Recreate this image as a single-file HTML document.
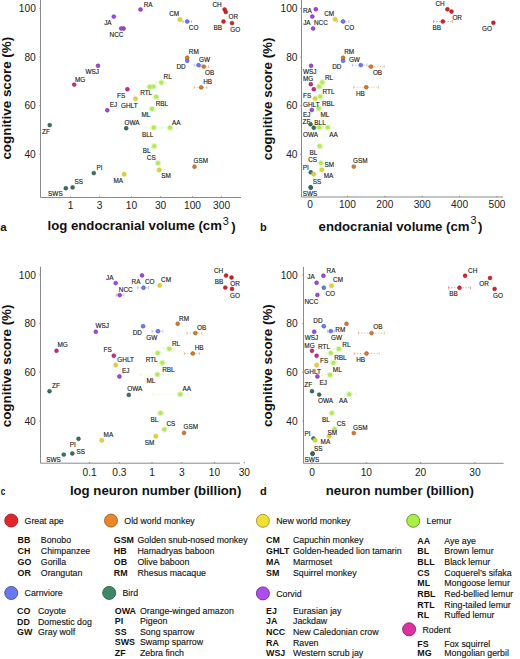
<!DOCTYPE html>
<html><head><meta charset="utf-8"><style>
html,body{margin:0;padding:0;background:#fff;width:520px;height:659px;overflow:hidden}
svg{display:block}
text{font-family:"Liberation Sans",sans-serif}
.ax{stroke:#8a8a8a;stroke-width:1;fill:none}
.tk{font-size:10.2px;fill:#222}
.ttl{font-size:13.2px;font-weight:bold;fill:#111}
.yl{font-size:13.4px}
.sup{font-size:10.8px;font-weight:normal}
.pl{font-size:11.5px;font-weight:bold;fill:#111}
.lb{font-size:6.4px;fill:#1c1c1c;text-anchor:middle;stroke:#1c1c1c;stroke-width:0.14}
.lg{font-size:8.8px;fill:#161616;stroke:#161616;stroke-width:0.14}
.lgb{font-size:8.9px;font-weight:bold;fill:#111}
</style></head><body>
<svg width="520" height="659" viewBox="0 0 520 659">
<line x1="40.5" y1="0" x2="40.5" y2="197.5" class="ax"/>
<line x1="40.5" y1="197.5" x2="241" y2="197.5" class="ax"/>
<line x1="70.5" y1="197.5" x2="70.5" y2="196.3" class="ax"/>
<text x="70.5" y="209.2" class="tk" text-anchor="middle" >1</text>
<line x1="99.6043965378994" y1="197.5" x2="99.6043965378994" y2="196.3" class="ax"/>
<text x="99.6043965378994" y="209.2" class="tk" text-anchor="middle" >3</text>
<line x1="131.5" y1="197.5" x2="131.5" y2="196.3" class="ax"/>
<text x="131.5" y="209.2" class="tk" text-anchor="middle" >10</text>
<line x1="160.6043965378994" y1="197.5" x2="160.6043965378994" y2="196.3" class="ax"/>
<text x="160.6043965378994" y="209.2" class="tk" text-anchor="middle" >30</text>
<line x1="192.5" y1="197.5" x2="192.5" y2="196.3" class="ax"/>
<text x="192.5" y="209.2" class="tk" text-anchor="middle" >100</text>
<line x1="221.60439653789942" y1="197.5" x2="221.60439653789942" y2="196.3" class="ax"/>
<text x="221.60439653789942" y="209.2" class="tk" text-anchor="middle" >300</text>
<line x1="39.3" y1="8.3" x2="40.5" y2="8.3" class="ax"/>
<line x1="39.3" y1="56.959999999999994" x2="40.5" y2="56.959999999999994" class="ax"/>
<line x1="39.3" y1="105.61999999999999" x2="40.5" y2="105.61999999999999" class="ax"/>
<line x1="39.3" y1="154.28" x2="40.5" y2="154.28" class="ax"/>
<text x="35.8" y="11.9" class="tk" text-anchor="end" >100</text>
<text x="35.8" y="60.559999999999995" class="tk" text-anchor="end" >80</text>
<text x="35.8" y="109.21999999999998" class="tk" text-anchor="end" >60</text>
<text x="35.8" y="157.88" class="tk" text-anchor="end" >40</text>
<text transform="translate(10.6,98.2) rotate(-90)" class="ttl yl" text-anchor="middle">cognitive score (%)</text>
<text x="47.5" y="230.2" class="ttl">log endocranial volume (cm<tspan class="sup" dx="0.9" dy="-5.7">3</tspan><tspan dx="2.4" dy="6.3">)</tspan></text>
<text x="0.3" y="231" class="pl">a</text>
<line x1="182.8" y1="21.5" x2="191.5" y2="21.5" stroke="#6a7af0" stroke-width="0.8" stroke-dasharray="1.3 1.5" opacity="0.55"/>
<line x1="182.8" y1="20.0" x2="182.8" y2="23.0" stroke="#6a7af0" stroke-width="0.7" opacity="0.55"/>
<line x1="191.5" y1="20.0" x2="191.5" y2="23.0" stroke="#6a7af0" stroke-width="0.7" opacity="0.55"/>
<line x1="194.2" y1="65.1" x2="202" y2="65.1" stroke="#6a7af0" stroke-width="0.8" stroke-dasharray="1.3 1.5" opacity="0.55"/>
<line x1="194.2" y1="63.599999999999994" x2="194.2" y2="66.6" stroke="#6a7af0" stroke-width="0.7" opacity="0.55"/>
<line x1="202" y1="63.599999999999994" x2="202" y2="66.6" stroke="#6a7af0" stroke-width="0.7" opacity="0.55"/>
<line x1="200" y1="66.6" x2="208.5" y2="66.6" stroke="#d27a2e" stroke-width="0.8" stroke-dasharray="1.3 1.5" opacity="0.55"/>
<line x1="200" y1="65.1" x2="200" y2="68.1" stroke="#d27a2e" stroke-width="0.7" opacity="0.55"/>
<line x1="208.5" y1="65.1" x2="208.5" y2="68.1" stroke="#d27a2e" stroke-width="0.7" opacity="0.55"/>
<line x1="194.2" y1="87.4" x2="206.9" y2="87.4" stroke="#d27a2e" stroke-width="0.8" stroke-dasharray="1.3 1.5" opacity="0.55"/>
<line x1="194.2" y1="85.9" x2="194.2" y2="88.9" stroke="#d27a2e" stroke-width="0.7" opacity="0.55"/>
<line x1="206.9" y1="85.9" x2="206.9" y2="88.9" stroke="#d27a2e" stroke-width="0.7" opacity="0.55"/>
<line x1="156" y1="82.6" x2="166" y2="82.6" stroke="#acec44" stroke-width="0.8" stroke-dasharray="1.3 1.5" opacity="0.35"/>
<line x1="156" y1="81.1" x2="156" y2="84.1" stroke="#acec44" stroke-width="0.7" opacity="0.35"/>
<line x1="166" y1="81.1" x2="166" y2="84.1" stroke="#acec44" stroke-width="0.7" opacity="0.35"/>
<line x1="146" y1="86.7" x2="157" y2="86.7" stroke="#acec44" stroke-width="0.8" stroke-dasharray="1.3 1.5" opacity="0.35"/>
<line x1="146" y1="85.2" x2="146" y2="88.2" stroke="#acec44" stroke-width="0.7" opacity="0.35"/>
<line x1="157" y1="85.2" x2="157" y2="88.2" stroke="#acec44" stroke-width="0.7" opacity="0.35"/>
<line x1="139.2" y1="108.9" x2="161.5" y2="108.9" stroke="#acec44" stroke-width="0.8" stroke-dasharray="1.3 1.5" opacity="0.35"/>
<line x1="139.2" y1="107.4" x2="139.2" y2="110.4" stroke="#acec44" stroke-width="0.7" opacity="0.35"/>
<line x1="161.5" y1="107.4" x2="161.5" y2="110.4" stroke="#acec44" stroke-width="0.7" opacity="0.35"/>
<line x1="146" y1="127.7" x2="160" y2="127.7" stroke="#acec44" stroke-width="0.8" stroke-dasharray="1.3 1.5" opacity="0.35"/>
<line x1="146" y1="126.2" x2="146" y2="129.2" stroke="#acec44" stroke-width="0.7" opacity="0.35"/>
<line x1="160" y1="126.2" x2="160" y2="129.2" stroke="#acec44" stroke-width="0.7" opacity="0.35"/>
<line x1="162" y1="127.7" x2="177" y2="127.7" stroke="#acec44" stroke-width="0.8" stroke-dasharray="1.3 1.5" opacity="0.35"/>
<line x1="162" y1="126.2" x2="162" y2="129.2" stroke="#acec44" stroke-width="0.7" opacity="0.35"/>
<line x1="177" y1="126.2" x2="177" y2="129.2" stroke="#acec44" stroke-width="0.7" opacity="0.35"/>
<line x1="152" y1="96.9" x2="160" y2="96.9" stroke="#acec44" stroke-width="0.8" stroke-dasharray="1.3 1.5" opacity="0.35"/>
<line x1="152" y1="95.4" x2="152" y2="98.4" stroke="#acec44" stroke-width="0.7" opacity="0.35"/>
<line x1="160" y1="95.4" x2="160" y2="98.4" stroke="#acec44" stroke-width="0.7" opacity="0.35"/>
<circle cx="49.7" cy="125.1" r="1.95" fill="#347060" stroke="#24493c" stroke-width="0.5"/>
<circle cx="126.2" cy="128.2" r="1.95" fill="#347060" stroke="#24493c" stroke-width="0.5"/>
<circle cx="93.8" cy="173.1" r="1.95" fill="#347060" stroke="#24493c" stroke-width="0.5"/>
<circle cx="72.6" cy="187.4" r="1.95" fill="#347060" stroke="#24493c" stroke-width="0.5"/>
<circle cx="65.8" cy="188.2" r="1.95" fill="#347060" stroke="#24493c" stroke-width="0.5"/>
<circle cx="161.4" cy="82.6" r="3.2" fill="#cdf096" opacity="0.5"/>
<circle cx="161.4" cy="82.6" r="2.15" fill="#b0e85a"/>
<circle cx="153.4" cy="86.7" r="3.2" fill="#cdf096" opacity="0.5"/>
<circle cx="153.4" cy="86.7" r="2.15" fill="#b0e85a"/>
<circle cx="156.2" cy="96.9" r="3.2" fill="#cdf096" opacity="0.5"/>
<circle cx="156.2" cy="96.9" r="2.15" fill="#b0e85a"/>
<circle cx="152" cy="108.9" r="3.2" fill="#cdf096" opacity="0.5"/>
<circle cx="152" cy="108.9" r="2.15" fill="#b0e85a"/>
<circle cx="153.8" cy="127.7" r="3.2" fill="#cdf096" opacity="0.5"/>
<circle cx="153.8" cy="127.7" r="2.15" fill="#b0e85a"/>
<circle cx="170" cy="127.7" r="3.2" fill="#cdf096" opacity="0.5"/>
<circle cx="170" cy="127.7" r="2.15" fill="#b0e85a"/>
<circle cx="154.2" cy="146.2" r="3.2" fill="#cdf096" opacity="0.5"/>
<circle cx="154.2" cy="146.2" r="2.15" fill="#b0e85a"/>
<circle cx="158" cy="163.1" r="3.2" fill="#cdf096" opacity="0.5"/>
<circle cx="158" cy="163.1" r="2.15" fill="#b0e85a"/>
<circle cx="149.8" cy="86.9" r="3.2" fill="#cdf096" opacity="0.5"/>
<circle cx="149.8" cy="86.9" r="2.15" fill="#b0e85a"/>
<circle cx="180" cy="19.5" r="2.9" fill="#ece880" opacity="0.45"/>
<circle cx="180" cy="19.5" r="2.05" fill="#dcd23a" stroke="#c0b038" stroke-width="0.3"/>
<circle cx="135.4" cy="98.8" r="2.9" fill="#ece880" opacity="0.45"/>
<circle cx="135.4" cy="98.8" r="2.05" fill="#dcd23a" stroke="#c0b038" stroke-width="0.3"/>
<circle cx="159.2" cy="170" r="2.9" fill="#ece880" opacity="0.45"/>
<circle cx="159.2" cy="170" r="2.05" fill="#dcd23a" stroke="#c0b038" stroke-width="0.3"/>
<circle cx="124.2" cy="174.2" r="2.9" fill="#ece880" opacity="0.45"/>
<circle cx="124.2" cy="174.2" r="2.05" fill="#dcd23a" stroke="#c0b038" stroke-width="0.3"/>
<circle cx="187.2" cy="21.5" r="1.95" fill="#6a7af0" stroke="#3c4aa6" stroke-width="0.5"/>
<circle cx="187.2" cy="60.8" r="1.95" fill="#6a7af0" stroke="#3c4aa6" stroke-width="0.5"/>
<circle cx="198.5" cy="65.1" r="1.95" fill="#6a7af0" stroke="#3c4aa6" stroke-width="0.5"/>
<circle cx="140.5" cy="9.5" r="1.95" fill="#9e48e0" stroke="#66288e" stroke-width="0.5"/>
<circle cx="113.8" cy="16.6" r="1.95" fill="#9e48e0" stroke="#66288e" stroke-width="0.5"/>
<circle cx="123.6" cy="28.5" r="1.95" fill="#9e48e0" stroke="#66288e" stroke-width="0.5"/>
<circle cx="98" cy="65.8" r="1.95" fill="#9e48e0" stroke="#66288e" stroke-width="0.5"/>
<circle cx="107.3" cy="110.3" r="1.95" fill="#9e48e0" stroke="#66288e" stroke-width="0.5"/>
<circle cx="121.2" cy="28.5" r="1.95" fill="#9e48e0" stroke="#66288e" stroke-width="0.5"/>
<circle cx="74.2" cy="84.6" r="1.95" fill="#cc2a80" stroke="#861a56" stroke-width="0.5"/>
<circle cx="127.4" cy="89.2" r="1.95" fill="#cc2a80" stroke="#861a56" stroke-width="0.5"/>
<circle cx="187.2" cy="57.7" r="1.95" fill="#d27a2e" stroke="#945420" stroke-width="0.5"/>
<circle cx="203.8" cy="66.6" r="1.95" fill="#d27a2e" stroke="#945420" stroke-width="0.5"/>
<circle cx="201.2" cy="87.4" r="1.95" fill="#d27a2e" stroke="#945420" stroke-width="0.5"/>
<circle cx="194.5" cy="166.75" r="1.95" fill="#d27a2e" stroke="#945420" stroke-width="0.5"/>
<circle cx="223.5" cy="21.5" r="1.95" fill="#d02228" stroke="#961a1e" stroke-width="0.5"/>
<circle cx="224.6" cy="9.5" r="1.95" fill="#d02228" stroke="#961a1e" stroke-width="0.5"/>
<circle cx="225.8" cy="12" r="1.95" fill="#d02228" stroke="#961a1e" stroke-width="0.5"/>
<circle cx="232" cy="23.1" r="1.95" fill="#d02228" stroke="#961a1e" stroke-width="0.5"/>
<text x="148.2" y="6.9" class="lb">RA</text>
<text x="107.9" y="24.7" class="lb">JA</text>
<text x="116.5" y="37.4" class="lb">NCC</text>
<text x="174.2" y="16.1" class="lb">CM</text>
<text x="193.6" y="30.0" class="lb">CO</text>
<text x="217.1" y="6.6" class="lb">CH</text>
<text x="233.3" y="19.4" class="lb">OR</text>
<text x="217.7" y="30.0" class="lb">BB</text>
<text x="235.2" y="31.6" class="lb">GO</text>
<text x="193.8" y="54.1" class="lb">RM</text>
<text x="181.0" y="68.9" class="lb">DD</text>
<text x="204.6" y="61.8" class="lb">GW</text>
<text x="209.6" y="75.2" class="lb">OB</text>
<text x="207.7" y="84.3" class="lb">HB</text>
<text x="92.3" y="74.2" class="lb">WSJ</text>
<text x="80.2" y="81.5" class="lb">MG</text>
<text x="113.5" y="106.9" class="lb">EJ</text>
<text x="45.9" y="133.8" class="lb">ZF</text>
<text x="121.2" y="97.9" class="lb">FS</text>
<text x="129.3" y="107.7" class="lb">GHLT</text>
<text x="167.7" y="79.3" class="lb">RL</text>
<text x="146.2" y="95.1" class="lb">RTL</text>
<text x="161.9" y="105.8" class="lb">RBL</text>
<text x="145.9" y="117.0" class="lb">ML</text>
<text x="132.1" y="125.1" class="lb">OWA</text>
<text x="147.7" y="136.9" class="lb">BLL</text>
<text x="176.2" y="125.1" class="lb">AA</text>
<text x="146.6" y="152.8" class="lb">BL</text>
<text x="151.3" y="160.0" class="lb">CS</text>
<text x="166.0" y="178.4" class="lb">SM</text>
<text x="118.3" y="183.1" class="lb">MA</text>
<text x="200.9" y="163.2" class="lb">GSM</text>
<text x="99.4" y="169.7" class="lb">PI</text>
<text x="78.7" y="183.6" class="lb">SS</text>
<text x="55.4" y="196.1" class="lb">SWS</text>
<line x1="301.5" y1="0" x2="301.5" y2="197" class="ax"/>
<line x1="301.5" y1="197" x2="503" y2="197" class="ax"/>
<line x1="310.0" y1="197" x2="310.0" y2="195.8" class="ax"/>
<text x="310.0" y="208.4" class="tk" text-anchor="middle" >0</text>
<line x1="347.4" y1="197" x2="347.4" y2="195.8" class="ax"/>
<text x="347.4" y="208.4" class="tk" text-anchor="middle" >100</text>
<line x1="384.8" y1="197" x2="384.8" y2="195.8" class="ax"/>
<text x="384.8" y="208.4" class="tk" text-anchor="middle" >200</text>
<line x1="422.2" y1="197" x2="422.2" y2="195.8" class="ax"/>
<text x="422.2" y="208.4" class="tk" text-anchor="middle" >300</text>
<line x1="459.6" y1="197" x2="459.6" y2="195.8" class="ax"/>
<text x="459.6" y="208.4" class="tk" text-anchor="middle" >400</text>
<line x1="497.0" y1="197" x2="497.0" y2="195.8" class="ax"/>
<text x="497.0" y="208.4" class="tk" text-anchor="middle" >500</text>
<line x1="300.3" y1="8.5" x2="301.5" y2="8.5" class="ax"/>
<line x1="300.3" y1="57.16" x2="301.5" y2="57.16" class="ax"/>
<line x1="300.3" y1="105.82" x2="301.5" y2="105.82" class="ax"/>
<line x1="300.3" y1="154.48" x2="301.5" y2="154.48" class="ax"/>
<text x="297.5" y="12.1" class="tk" text-anchor="end" >100</text>
<text x="297.5" y="60.76" class="tk" text-anchor="end" >80</text>
<text x="297.5" y="109.41999999999999" class="tk" text-anchor="end" >60</text>
<text x="297.5" y="158.07999999999998" class="tk" text-anchor="end" >40</text>
<text transform="translate(271.6,98.9) rotate(-90)" class="ttl yl" text-anchor="middle">cognitive score (%)</text>
<text x="318.6" y="230.7" class="ttl">endocranial volume (cm<tspan class="sup" dx="0.9" dy="-6.8">3</tspan><tspan dx="1.5" dy="7.2">)</tspan></text>
<text x="260.1" y="230.8" class="pl" style="font-size:11px">b</text>
<line x1="336.9" y1="21.5" x2="348.9" y2="21.5" stroke="#6a7af0" stroke-width="0.8" stroke-dasharray="1.3 1.5" opacity="0.55"/>
<line x1="336.9" y1="20.0" x2="336.9" y2="23.0" stroke="#6a7af0" stroke-width="0.7" opacity="0.55"/>
<line x1="348.9" y1="20.0" x2="348.9" y2="23.0" stroke="#6a7af0" stroke-width="0.7" opacity="0.55"/>
<line x1="352.3" y1="65.1" x2="366.9" y2="65.1" stroke="#6a7af0" stroke-width="0.8" stroke-dasharray="1.3 1.5" opacity="0.55"/>
<line x1="352.3" y1="63.599999999999994" x2="352.3" y2="66.6" stroke="#6a7af0" stroke-width="0.7" opacity="0.55"/>
<line x1="366.9" y1="63.599999999999994" x2="366.9" y2="66.6" stroke="#6a7af0" stroke-width="0.7" opacity="0.55"/>
<line x1="368.5" y1="66.6" x2="384.3" y2="66.6" stroke="#d27a2e" stroke-width="0.8" stroke-dasharray="1.3 1.5" opacity="0.55"/>
<line x1="368.5" y1="65.1" x2="368.5" y2="68.1" stroke="#d27a2e" stroke-width="0.7" opacity="0.55"/>
<line x1="384.3" y1="65.1" x2="384.3" y2="68.1" stroke="#d27a2e" stroke-width="0.7" opacity="0.55"/>
<line x1="353.8" y1="87.2" x2="378.5" y2="87.2" stroke="#d27a2e" stroke-width="0.8" stroke-dasharray="1.3 1.5" opacity="0.55"/>
<line x1="353.8" y1="85.7" x2="353.8" y2="88.7" stroke="#d27a2e" stroke-width="0.7" opacity="0.55"/>
<line x1="378.5" y1="85.7" x2="378.5" y2="88.7" stroke="#d27a2e" stroke-width="0.7" opacity="0.55"/>
<line x1="433.5" y1="21.5" x2="452.3" y2="21.5" stroke="#d02228" stroke-width="0.8" stroke-dasharray="1.3 1.5" opacity="0.55"/>
<line x1="433.5" y1="20.0" x2="433.5" y2="23.0" stroke="#d02228" stroke-width="0.7" opacity="0.55"/>
<line x1="452.3" y1="20.0" x2="452.3" y2="23.0" stroke="#d02228" stroke-width="0.7" opacity="0.55"/>
<line x1="320" y1="82.3" x2="326" y2="82.3" stroke="#acec44" stroke-width="0.8" stroke-dasharray="1.3 1.5" opacity="0.35"/>
<line x1="320" y1="80.8" x2="320" y2="83.8" stroke="#acec44" stroke-width="0.7" opacity="0.35"/>
<line x1="326" y1="80.8" x2="326" y2="83.8" stroke="#acec44" stroke-width="0.7" opacity="0.35"/>
<line x1="316" y1="86.5" x2="322" y2="86.5" stroke="#acec44" stroke-width="0.8" stroke-dasharray="1.3 1.5" opacity="0.35"/>
<line x1="316" y1="85.0" x2="316" y2="88.0" stroke="#acec44" stroke-width="0.7" opacity="0.35"/>
<line x1="322" y1="85.0" x2="322" y2="88.0" stroke="#acec44" stroke-width="0.7" opacity="0.35"/>
<line x1="323" y1="127.4" x2="333" y2="127.4" stroke="#acec44" stroke-width="0.8" stroke-dasharray="1.3 1.5" opacity="0.35"/>
<line x1="323" y1="125.9" x2="323" y2="128.9" stroke="#acec44" stroke-width="0.7" opacity="0.35"/>
<line x1="333" y1="125.9" x2="333" y2="128.9" stroke="#acec44" stroke-width="0.7" opacity="0.35"/>
<line x1="316" y1="127.4" x2="323" y2="127.4" stroke="#acec44" stroke-width="0.8" stroke-dasharray="1.3 1.5" opacity="0.35"/>
<line x1="316" y1="125.9" x2="316" y2="128.9" stroke="#acec44" stroke-width="0.7" opacity="0.35"/>
<line x1="323" y1="125.9" x2="323" y2="128.9" stroke="#acec44" stroke-width="0.7" opacity="0.35"/>
<circle cx="310.5" cy="124.3" r="1.95" fill="#347060" stroke="#24493c" stroke-width="0.5"/>
<circle cx="313.8" cy="127.7" r="1.95" fill="#347060" stroke="#24493c" stroke-width="0.5"/>
<circle cx="310.8" cy="172.3" r="1.95" fill="#347060" stroke="#24493c" stroke-width="0.5"/>
<circle cx="310.6" cy="187.3" r="1.95" fill="#347060" stroke="#24493c" stroke-width="0.5"/>
<circle cx="310.8" cy="187.7" r="1.95" fill="#347060" stroke="#24493c" stroke-width="0.5"/>
<circle cx="322.3" cy="82.3" r="3.2" fill="#cdf096" opacity="0.5"/>
<circle cx="322.3" cy="82.3" r="2.15" fill="#b0e85a"/>
<circle cx="319.2" cy="86.5" r="3.2" fill="#cdf096" opacity="0.5"/>
<circle cx="319.2" cy="86.5" r="2.15" fill="#b0e85a"/>
<circle cx="320.3" cy="96.6" r="3.2" fill="#cdf096" opacity="0.5"/>
<circle cx="320.3" cy="96.6" r="2.15" fill="#b0e85a"/>
<circle cx="318.8" cy="108.5" r="3.2" fill="#cdf096" opacity="0.5"/>
<circle cx="318.8" cy="108.5" r="2.15" fill="#b0e85a"/>
<circle cx="319.2" cy="127.4" r="3.2" fill="#cdf096" opacity="0.5"/>
<circle cx="319.2" cy="127.4" r="2.15" fill="#b0e85a"/>
<circle cx="327.7" cy="127.4" r="3.2" fill="#cdf096" opacity="0.5"/>
<circle cx="327.7" cy="127.4" r="2.15" fill="#b0e85a"/>
<circle cx="319.7" cy="146.2" r="3.2" fill="#cdf096" opacity="0.5"/>
<circle cx="319.7" cy="146.2" r="2.15" fill="#b0e85a"/>
<circle cx="320.8" cy="163.1" r="3.2" fill="#cdf096" opacity="0.5"/>
<circle cx="320.8" cy="163.1" r="2.15" fill="#b0e85a"/>
<circle cx="335.1" cy="19.2" r="2.9" fill="#ece880" opacity="0.45"/>
<circle cx="335.1" cy="19.2" r="2.05" fill="#dcd23a" stroke="#c0b038" stroke-width="0.3"/>
<circle cx="315.1" cy="98.5" r="2.9" fill="#ece880" opacity="0.45"/>
<circle cx="315.1" cy="98.5" r="2.05" fill="#dcd23a" stroke="#c0b038" stroke-width="0.3"/>
<circle cx="321.8" cy="169.7" r="2.9" fill="#ece880" opacity="0.45"/>
<circle cx="321.8" cy="169.7" r="2.05" fill="#dcd23a" stroke="#c0b038" stroke-width="0.3"/>
<circle cx="313.8" cy="174.2" r="2.9" fill="#ece880" opacity="0.45"/>
<circle cx="313.8" cy="174.2" r="2.05" fill="#dcd23a" stroke="#c0b038" stroke-width="0.3"/>
<circle cx="343.1" cy="21.5" r="1.95" fill="#6a7af0" stroke="#3c4aa6" stroke-width="0.5"/>
<circle cx="343.1" cy="60.8" r="1.95" fill="#6a7af0" stroke="#3c4aa6" stroke-width="0.5"/>
<circle cx="360.8" cy="65.1" r="1.95" fill="#6a7af0" stroke="#3c4aa6" stroke-width="0.5"/>
<circle cx="315.8" cy="9.2" r="1.95" fill="#9e48e0" stroke="#66288e" stroke-width="0.5"/>
<circle cx="312.3" cy="16.5" r="1.95" fill="#9e48e0" stroke="#66288e" stroke-width="0.5"/>
<circle cx="313.1" cy="28.5" r="1.95" fill="#9e48e0" stroke="#66288e" stroke-width="0.5"/>
<circle cx="311.1" cy="65.8" r="1.95" fill="#9e48e0" stroke="#66288e" stroke-width="0.5"/>
<circle cx="311.8" cy="110" r="1.95" fill="#9e48e0" stroke="#66288e" stroke-width="0.5"/>
<circle cx="310.8" cy="84.2" r="1.95" fill="#cc2a80" stroke="#861a56" stroke-width="0.5"/>
<circle cx="313.8" cy="89.2" r="1.95" fill="#cc2a80" stroke="#861a56" stroke-width="0.5"/>
<circle cx="343.1" cy="57.7" r="1.95" fill="#d27a2e" stroke="#945420" stroke-width="0.5"/>
<circle cx="371.1" cy="66.6" r="1.95" fill="#d27a2e" stroke="#945420" stroke-width="0.5"/>
<circle cx="366.2" cy="87.2" r="1.95" fill="#d27a2e" stroke="#945420" stroke-width="0.5"/>
<circle cx="353.8" cy="166.6" r="1.95" fill="#d27a2e" stroke="#945420" stroke-width="0.5"/>
<circle cx="447.4" cy="9.2" r="1.95" fill="#d02228" stroke="#961a1e" stroke-width="0.5"/>
<circle cx="451.5" cy="11.5" r="1.95" fill="#d02228" stroke="#961a1e" stroke-width="0.5"/>
<circle cx="442.8" cy="21.5" r="1.95" fill="#d02228" stroke="#961a1e" stroke-width="0.5"/>
<circle cx="493.4" cy="22.8" r="1.95" fill="#d02228" stroke="#961a1e" stroke-width="0.5"/>
<text x="307.4" y="13.1" class="lb">RA</text>
<text x="306.9" y="24.7" class="lb">JA</text>
<text x="320.9" y="24.7" class="lb">NCC</text>
<text x="329.2" y="15.9" class="lb">CM</text>
<text x="349.4" y="30.0" class="lb">CO</text>
<text x="349.2" y="54.1" class="lb">RM</text>
<text x="354.4" y="61.5" class="lb">GW</text>
<text x="336.8" y="68.9" class="lb">DD</text>
<text x="377.5" y="75.0" class="lb">OB</text>
<text x="309.8" y="73.8" class="lb">WSJ</text>
<text x="440.0" y="6.4" class="lb">CH</text>
<text x="457.2" y="20.0" class="lb">OR</text>
<text x="436.7" y="30.0" class="lb">BB</text>
<text x="487.1" y="31.3" class="lb">GO</text>
<text x="308.2" y="81.2" class="lb">MG</text>
<text x="329.0" y="79.7" class="lb">RL</text>
<text x="328.5" y="93.8" class="lb">RTL</text>
<text x="307.2" y="98.1" class="lb">FS</text>
<text x="328.1" y="105.8" class="lb">RBL</text>
<text x="311.3" y="106.9" class="lb">GHLT</text>
<text x="306.7" y="116.9" class="lb">EJ</text>
<text x="325.0" y="116.9" class="lb">ML</text>
<text x="306.4" y="124.3" class="lb">ZF</text>
<text x="320.0" y="124.6" class="lb">BLL</text>
<text x="310.5" y="136.9" class="lb">OWA</text>
<text x="333.4" y="136.9" class="lb">AA</text>
<text x="360.4" y="95.5" class="lb">HB</text>
<text x="313.4" y="154.9" class="lb">BL</text>
<text x="312.7" y="162.3" class="lb">CS</text>
<text x="329.4" y="166.9" class="lb">SM</text>
<text x="305.8" y="169.7" class="lb">PI</text>
<text x="328.6" y="178.4" class="lb">MA</text>
<text x="317.1" y="183.8" class="lb">SS</text>
<text x="310.1" y="195.8" class="lb">SWS</text>
<text x="360.2" y="163.1" class="lb">GSM</text>
<line x1="40.5" y1="266.7" x2="40.5" y2="463.2" class="ax"/>
<line x1="40.5" y1="463.2" x2="240" y2="463.2" class="ax"/>
<line x1="89.5" y1="463.2" x2="89.5" y2="462.0" class="ax"/>
<text x="89.5" y="476.2" class="tk" text-anchor="middle" >0.1</text>
<line x1="119.3200784199789" y1="463.2" x2="119.3200784199789" y2="462.0" class="ax"/>
<text x="119.3200784199789" y="476.2" class="tk" text-anchor="middle" >0.3</text>
<line x1="152.0" y1="463.2" x2="152.0" y2="462.0" class="ax"/>
<text x="152.0" y="476.2" class="tk" text-anchor="middle" >1</text>
<line x1="181.8200784199789" y1="463.2" x2="181.8200784199789" y2="462.0" class="ax"/>
<text x="181.8200784199789" y="476.2" class="tk" text-anchor="middle" >3</text>
<line x1="214.5" y1="463.2" x2="214.5" y2="462.0" class="ax"/>
<text x="214.5" y="476.2" class="tk" text-anchor="middle" >10</text>
<line x1="244.3200784199789" y1="463.2" x2="244.3200784199789" y2="462.0" class="ax"/>
<text x="244.3200784199789" y="476.2" class="tk" text-anchor="middle" >30</text>
<line x1="39.3" y1="275.0" x2="40.5" y2="275.0" class="ax"/>
<line x1="39.3" y1="323.65999999999997" x2="40.5" y2="323.65999999999997" class="ax"/>
<line x1="39.3" y1="372.32" x2="40.5" y2="372.32" class="ax"/>
<line x1="39.3" y1="420.98" x2="40.5" y2="420.98" class="ax"/>
<text x="35.8" y="278.6" class="tk" text-anchor="end" >100</text>
<text x="35.8" y="327.26" class="tk" text-anchor="end" >80</text>
<text x="35.8" y="375.92" class="tk" text-anchor="end" >60</text>
<text x="35.8" y="424.58000000000004" class="tk" text-anchor="end" >40</text>
<text transform="translate(10.6,365.9) rotate(-90)" class="ttl yl" text-anchor="middle">cognitive score (%)</text>
<text x="69.9" y="495" class="ttl">log neuron number (billion)</text>
<text transform="translate(0.8,495) scale(0.72,1)" class="pl">c</text>
<line x1="137.7" y1="287.7" x2="148.5" y2="287.7" stroke="#6a7af0" stroke-width="0.8" stroke-dasharray="1.3 1.5" opacity="0.55"/>
<line x1="137.7" y1="286.2" x2="137.7" y2="289.2" stroke="#6a7af0" stroke-width="0.7" opacity="0.55"/>
<line x1="148.5" y1="286.2" x2="148.5" y2="289.2" stroke="#6a7af0" stroke-width="0.7" opacity="0.55"/>
<line x1="116.2" y1="295.1" x2="123.8" y2="295.1" stroke="#9e48e0" stroke-width="0.8" stroke-dasharray="1.3 1.5" opacity="0.55"/>
<line x1="116.2" y1="293.6" x2="116.2" y2="296.6" stroke="#9e48e0" stroke-width="0.7" opacity="0.55"/>
<line x1="123.8" y1="293.6" x2="123.8" y2="296.6" stroke="#9e48e0" stroke-width="0.7" opacity="0.55"/>
<line x1="152" y1="331.2" x2="162.8" y2="331.2" stroke="#6a7af0" stroke-width="0.8" stroke-dasharray="1.3 1.5" opacity="0.55"/>
<line x1="152" y1="329.7" x2="152" y2="332.7" stroke="#6a7af0" stroke-width="0.7" opacity="0.55"/>
<line x1="162.8" y1="329.7" x2="162.8" y2="332.7" stroke="#6a7af0" stroke-width="0.7" opacity="0.55"/>
<line x1="186.9" y1="333.1" x2="201.8" y2="333.1" stroke="#d27a2e" stroke-width="0.8" stroke-dasharray="1.3 1.5" opacity="0.55"/>
<line x1="186.9" y1="331.6" x2="186.9" y2="334.6" stroke="#d27a2e" stroke-width="0.7" opacity="0.55"/>
<line x1="201.8" y1="331.6" x2="201.8" y2="334.6" stroke="#d27a2e" stroke-width="0.7" opacity="0.55"/>
<line x1="184.3" y1="353.5" x2="199.7" y2="353.5" stroke="#d27a2e" stroke-width="0.8" stroke-dasharray="1.3 1.5" opacity="0.55"/>
<line x1="184.3" y1="352.0" x2="184.3" y2="355.0" stroke="#d27a2e" stroke-width="0.7" opacity="0.55"/>
<line x1="199.7" y1="352.0" x2="199.7" y2="355.0" stroke="#d27a2e" stroke-width="0.7" opacity="0.55"/>
<line x1="140.8" y1="374.6" x2="168.5" y2="374.6" stroke="#acec44" stroke-width="0.8" stroke-dasharray="1.3 1.5" opacity="0.35"/>
<line x1="140.8" y1="373.1" x2="140.8" y2="376.1" stroke="#acec44" stroke-width="0.7" opacity="0.35"/>
<line x1="168.5" y1="373.1" x2="168.5" y2="376.1" stroke="#acec44" stroke-width="0.7" opacity="0.35"/>
<line x1="153" y1="353.1" x2="162" y2="353.1" stroke="#acec44" stroke-width="0.8" stroke-dasharray="1.3 1.5" opacity="0.35"/>
<line x1="153" y1="351.6" x2="153" y2="354.6" stroke="#acec44" stroke-width="0.7" opacity="0.35"/>
<line x1="162" y1="351.6" x2="162" y2="354.6" stroke="#acec44" stroke-width="0.7" opacity="0.35"/>
<line x1="153" y1="394.3" x2="188.5" y2="394.3" stroke="#acec44" stroke-width="0.8" stroke-dasharray="1.3 1.5" opacity="0.35"/>
<line x1="153" y1="392.8" x2="153" y2="395.8" stroke="#acec44" stroke-width="0.7" opacity="0.35"/>
<line x1="188.5" y1="392.8" x2="188.5" y2="395.8" stroke="#acec44" stroke-width="0.7" opacity="0.35"/>
<line x1="164" y1="348.8" x2="174" y2="348.8" stroke="#acec44" stroke-width="0.8" stroke-dasharray="1.3 1.5" opacity="0.35"/>
<line x1="164" y1="347.3" x2="164" y2="350.3" stroke="#acec44" stroke-width="0.7" opacity="0.35"/>
<line x1="174" y1="347.3" x2="174" y2="350.3" stroke="#acec44" stroke-width="0.7" opacity="0.35"/>
<line x1="158" y1="362.8" x2="166" y2="362.8" stroke="#acec44" stroke-width="0.8" stroke-dasharray="1.3 1.5" opacity="0.35"/>
<line x1="158" y1="361.3" x2="158" y2="364.3" stroke="#acec44" stroke-width="0.7" opacity="0.35"/>
<line x1="166" y1="361.3" x2="166" y2="364.3" stroke="#acec44" stroke-width="0.7" opacity="0.35"/>
<line x1="157" y1="413.1" x2="164" y2="413.1" stroke="#acec44" stroke-width="0.8" stroke-dasharray="1.3 1.5" opacity="0.35"/>
<line x1="157" y1="411.6" x2="157" y2="414.6" stroke="#acec44" stroke-width="0.7" opacity="0.35"/>
<line x1="164" y1="411.6" x2="164" y2="414.6" stroke="#acec44" stroke-width="0.7" opacity="0.35"/>
<circle cx="49.5" cy="391.2" r="1.95" fill="#347060" stroke="#24493c" stroke-width="0.5"/>
<circle cx="128.8" cy="394.9" r="1.95" fill="#347060" stroke="#24493c" stroke-width="0.5"/>
<circle cx="78.5" cy="438.8" r="1.95" fill="#347060" stroke="#24493c" stroke-width="0.5"/>
<circle cx="72.3" cy="453.5" r="1.95" fill="#347060" stroke="#24493c" stroke-width="0.5"/>
<circle cx="63.8" cy="454.6" r="1.95" fill="#347060" stroke="#24493c" stroke-width="0.5"/>
<circle cx="169.2" cy="348.8" r="3.2" fill="#cdf096" opacity="0.5"/>
<circle cx="169.2" cy="348.8" r="2.15" fill="#b0e85a"/>
<circle cx="157.7" cy="353.1" r="3.2" fill="#cdf096" opacity="0.5"/>
<circle cx="157.7" cy="353.1" r="2.15" fill="#b0e85a"/>
<circle cx="162.3" cy="362.8" r="3.2" fill="#cdf096" opacity="0.5"/>
<circle cx="162.3" cy="362.8" r="2.15" fill="#b0e85a"/>
<circle cx="157.4" cy="374.6" r="3.2" fill="#cdf096" opacity="0.5"/>
<circle cx="157.4" cy="374.6" r="2.15" fill="#b0e85a"/>
<circle cx="180.2" cy="394.3" r="3.2" fill="#cdf096" opacity="0.5"/>
<circle cx="180.2" cy="394.3" r="2.15" fill="#b0e85a"/>
<circle cx="160.6" cy="413.1" r="3.2" fill="#cdf096" opacity="0.5"/>
<circle cx="160.6" cy="413.1" r="2.15" fill="#b0e85a"/>
<circle cx="164.4" cy="429.4" r="3.2" fill="#cdf096" opacity="0.5"/>
<circle cx="164.4" cy="429.4" r="2.15" fill="#b0e85a"/>
<circle cx="159.7" cy="285.4" r="2.9" fill="#ece880" opacity="0.45"/>
<circle cx="159.7" cy="285.4" r="2.05" fill="#dcd23a" stroke="#c0b038" stroke-width="0.3"/>
<circle cx="115.8" cy="365.1" r="2.9" fill="#ece880" opacity="0.45"/>
<circle cx="115.8" cy="365.1" r="2.05" fill="#dcd23a" stroke="#c0b038" stroke-width="0.3"/>
<circle cx="155.8" cy="436.2" r="2.9" fill="#ece880" opacity="0.45"/>
<circle cx="155.8" cy="436.2" r="2.05" fill="#dcd23a" stroke="#c0b038" stroke-width="0.3"/>
<circle cx="101.8" cy="440.3" r="2.9" fill="#ece880" opacity="0.45"/>
<circle cx="101.8" cy="440.3" r="2.05" fill="#dcd23a" stroke="#c0b038" stroke-width="0.3"/>
<circle cx="143.5" cy="287.7" r="1.95" fill="#6a7af0" stroke="#3c4aa6" stroke-width="0.5"/>
<circle cx="143.1" cy="326.2" r="1.95" fill="#6a7af0" stroke="#3c4aa6" stroke-width="0.5"/>
<circle cx="158" cy="331.2" r="1.95" fill="#6a7af0" stroke="#3c4aa6" stroke-width="0.5"/>
<circle cx="115.7" cy="283.1" r="1.95" fill="#9e48e0" stroke="#66288e" stroke-width="0.5"/>
<circle cx="142" cy="275.4" r="1.95" fill="#9e48e0" stroke="#66288e" stroke-width="0.5"/>
<circle cx="119.7" cy="295.1" r="1.95" fill="#9e48e0" stroke="#66288e" stroke-width="0.5"/>
<circle cx="95.8" cy="331.8" r="1.95" fill="#9e48e0" stroke="#66288e" stroke-width="0.5"/>
<circle cx="119.4" cy="376.5" r="1.95" fill="#9e48e0" stroke="#66288e" stroke-width="0.5"/>
<circle cx="56.5" cy="350.8" r="1.95" fill="#cc2a80" stroke="#861a56" stroke-width="0.5"/>
<circle cx="113.8" cy="355.7" r="1.95" fill="#cc2a80" stroke="#861a56" stroke-width="0.5"/>
<circle cx="177.7" cy="323.8" r="1.95" fill="#d27a2e" stroke="#945420" stroke-width="0.5"/>
<circle cx="195.4" cy="333.1" r="1.95" fill="#d27a2e" stroke="#945420" stroke-width="0.5"/>
<circle cx="192.8" cy="353.5" r="1.95" fill="#d27a2e" stroke="#945420" stroke-width="0.5"/>
<circle cx="184" cy="432.9" r="1.95" fill="#d27a2e" stroke="#945420" stroke-width="0.5"/>
<circle cx="226.1" cy="275.5" r="1.95" fill="#d02228" stroke="#961a1e" stroke-width="0.5"/>
<circle cx="231.5" cy="277.5" r="1.95" fill="#d02228" stroke="#961a1e" stroke-width="0.5"/>
<circle cx="225.3" cy="287.6" r="1.95" fill="#d02228" stroke="#961a1e" stroke-width="0.5"/>
<circle cx="232" cy="288.9" r="1.95" fill="#d02228" stroke="#961a1e" stroke-width="0.5"/>
<text x="109.8" y="279.7" class="lb">JA</text>
<text x="136.0" y="284.3" class="lb">RA</text>
<text x="149.8" y="284.3" class="lb">CO</text>
<text x="125.8" y="291.5" class="lb">NCC</text>
<text x="102.3" y="328.4" class="lb">WSJ</text>
<text x="137.3" y="335.1" class="lb">DD</text>
<text x="151.7" y="339.7" class="lb">GW</text>
<text x="166.0" y="282.3" class="lb">CM</text>
<text x="184.1" y="320.8" class="lb">RM</text>
<text x="201.7" y="329.8" class="lb">OB</text>
<text x="218.6" y="272.7" class="lb">CH</text>
<text x="218.9" y="284.1" class="lb">BB</text>
<text x="235.1" y="285.5" class="lb">OR</text>
<text x="235.1" y="297.6" class="lb">GO</text>
<text x="62.7" y="347.2" class="lb">MG</text>
<text x="107.7" y="352.3" class="lb">FS</text>
<text x="125.6" y="361.5" class="lb">GHLT</text>
<text x="125.8" y="373.2" class="lb">EJ</text>
<text x="55.9" y="387.9" class="lb">ZF</text>
<text x="134.8" y="391.2" class="lb">OWA</text>
<text x="176.0" y="345.7" class="lb">RL</text>
<text x="151.7" y="361.5" class="lb">RTL</text>
<text x="168.4" y="372.1" class="lb">RBL</text>
<text x="151.0" y="383.1" class="lb">ML</text>
<text x="199.1" y="349.8" class="lb">HB</text>
<text x="186.8" y="390.8" class="lb">AA</text>
<text x="154.3" y="421.6" class="lb">BL</text>
<text x="170.9" y="426.1" class="lb">CS</text>
<text x="149.5" y="444.5" class="lb">SM</text>
<text x="190.8" y="429.1" class="lb">GSM</text>
<text x="108.4" y="437.2" class="lb">MA</text>
<text x="72.8" y="446.9" class="lb">PI</text>
<text x="80.8" y="454.4" class="lb">SS</text>
<text x="53.6" y="462.1" class="lb">SWS</text>
<line x1="303.5" y1="267" x2="303.5" y2="463.3" class="ax"/>
<line x1="303.5" y1="463.3" x2="503.6" y2="463.3" class="ax"/>
<line x1="312.0" y1="463.3" x2="312.0" y2="462.1" class="ax"/>
<text x="312.0" y="476.2" class="tk" text-anchor="middle" >0</text>
<line x1="366.3" y1="463.3" x2="366.3" y2="462.1" class="ax"/>
<text x="366.3" y="476.2" class="tk" text-anchor="middle" >10</text>
<line x1="420.6" y1="463.3" x2="420.6" y2="462.1" class="ax"/>
<text x="420.6" y="476.2" class="tk" text-anchor="middle" >20</text>
<line x1="474.9" y1="463.3" x2="474.9" y2="462.1" class="ax"/>
<text x="474.9" y="476.2" class="tk" text-anchor="middle" >30</text>
<line x1="302.3" y1="275.0" x2="303.5" y2="275.0" class="ax"/>
<line x1="302.3" y1="323.65999999999997" x2="303.5" y2="323.65999999999997" class="ax"/>
<line x1="302.3" y1="372.32" x2="303.5" y2="372.32" class="ax"/>
<line x1="302.3" y1="420.98" x2="303.5" y2="420.98" class="ax"/>
<text x="297.7" y="278.6" class="tk" text-anchor="end" >100</text>
<text x="297.7" y="327.26" class="tk" text-anchor="end" >80</text>
<text x="297.7" y="375.92" class="tk" text-anchor="end" >60</text>
<text x="297.7" y="424.58000000000004" class="tk" text-anchor="end" >40</text>
<text transform="translate(272.2,365.6) rotate(-90)" class="ttl yl" text-anchor="middle">cognitive score (%)</text>
<text x="325.8" y="495" class="ttl">neuron number (billion)</text>
<text x="260.1" y="494.8" class="pl" style="font-size:11px">d</text>
<line x1="358.5" y1="333.1" x2="384.3" y2="333.1" stroke="#d27a2e" stroke-width="0.8" stroke-dasharray="1.3 1.5" opacity="0.55"/>
<line x1="358.5" y1="331.6" x2="358.5" y2="334.6" stroke="#d27a2e" stroke-width="0.7" opacity="0.55"/>
<line x1="384.3" y1="331.6" x2="384.3" y2="334.6" stroke="#d27a2e" stroke-width="0.7" opacity="0.55"/>
<line x1="354.2" y1="353.5" x2="379.2" y2="353.5" stroke="#d27a2e" stroke-width="0.8" stroke-dasharray="1.3 1.5" opacity="0.55"/>
<line x1="354.2" y1="352.0" x2="354.2" y2="355.0" stroke="#d27a2e" stroke-width="0.7" opacity="0.55"/>
<line x1="379.2" y1="352.0" x2="379.2" y2="355.0" stroke="#d27a2e" stroke-width="0.7" opacity="0.55"/>
<line x1="448.5" y1="287.7" x2="470.5" y2="287.7" stroke="#d02228" stroke-width="0.8" stroke-dasharray="1.3 1.5" opacity="0.55"/>
<line x1="448.5" y1="286.2" x2="448.5" y2="289.2" stroke="#d02228" stroke-width="0.7" opacity="0.55"/>
<line x1="470.5" y1="286.2" x2="470.5" y2="289.2" stroke="#d02228" stroke-width="0.7" opacity="0.55"/>
<line x1="327.5" y1="331.1" x2="334.5" y2="331.1" stroke="#6a7af0" stroke-width="0.8" stroke-dasharray="1.3 1.5" opacity="0.55"/>
<line x1="327.5" y1="329.6" x2="327.5" y2="332.6" stroke="#6a7af0" stroke-width="0.7" opacity="0.55"/>
<line x1="334.5" y1="329.6" x2="334.5" y2="332.6" stroke="#6a7af0" stroke-width="0.7" opacity="0.55"/>
<line x1="322.3" y1="374.9" x2="337.7" y2="374.9" stroke="#acec44" stroke-width="0.8" stroke-dasharray="1.3 1.5" opacity="0.35"/>
<line x1="322.3" y1="373.4" x2="322.3" y2="376.4" stroke="#acec44" stroke-width="0.7" opacity="0.35"/>
<line x1="337.7" y1="373.4" x2="337.7" y2="376.4" stroke="#acec44" stroke-width="0.7" opacity="0.35"/>
<line x1="327.7" y1="394.3" x2="356.2" y2="394.3" stroke="#acec44" stroke-width="0.8" stroke-dasharray="1.3 1.5" opacity="0.35"/>
<line x1="327.7" y1="392.8" x2="327.7" y2="395.8" stroke="#acec44" stroke-width="0.7" opacity="0.35"/>
<line x1="356.2" y1="392.8" x2="356.2" y2="395.8" stroke="#acec44" stroke-width="0.7" opacity="0.35"/>
<line x1="326" y1="353.1" x2="336" y2="353.1" stroke="#acec44" stroke-width="0.8" stroke-dasharray="1.3 1.5" opacity="0.35"/>
<line x1="326" y1="351.6" x2="326" y2="354.6" stroke="#acec44" stroke-width="0.7" opacity="0.35"/>
<line x1="336" y1="351.6" x2="336" y2="354.6" stroke="#acec44" stroke-width="0.7" opacity="0.35"/>
<line x1="334" y1="348.9" x2="343" y2="348.9" stroke="#acec44" stroke-width="0.8" stroke-dasharray="1.3 1.5" opacity="0.35"/>
<line x1="334" y1="347.4" x2="334" y2="350.4" stroke="#acec44" stroke-width="0.7" opacity="0.35"/>
<line x1="343" y1="347.4" x2="343" y2="350.4" stroke="#acec44" stroke-width="0.7" opacity="0.35"/>
<line x1="330" y1="362.8" x2="337" y2="362.8" stroke="#acec44" stroke-width="0.8" stroke-dasharray="1.3 1.5" opacity="0.35"/>
<line x1="330" y1="361.3" x2="330" y2="364.3" stroke="#acec44" stroke-width="0.7" opacity="0.35"/>
<line x1="337" y1="361.3" x2="337" y2="364.3" stroke="#acec44" stroke-width="0.7" opacity="0.35"/>
<circle cx="312" cy="391.2" r="1.95" fill="#347060" stroke="#24493c" stroke-width="0.5"/>
<circle cx="319.2" cy="394.6" r="1.95" fill="#347060" stroke="#24493c" stroke-width="0.5"/>
<circle cx="313.5" cy="438.5" r="1.95" fill="#347060" stroke="#24493c" stroke-width="0.5"/>
<circle cx="312.5" cy="453.5" r="1.95" fill="#347060" stroke="#24493c" stroke-width="0.5"/>
<circle cx="312.6" cy="453.8" r="1.95" fill="#347060" stroke="#24493c" stroke-width="0.5"/>
<circle cx="338.8" cy="348.9" r="3.2" fill="#cdf096" opacity="0.5"/>
<circle cx="338.8" cy="348.9" r="2.15" fill="#b0e85a"/>
<circle cx="330.8" cy="353.1" r="3.2" fill="#cdf096" opacity="0.5"/>
<circle cx="330.8" cy="353.1" r="2.15" fill="#b0e85a"/>
<circle cx="333.5" cy="362.8" r="3.2" fill="#cdf096" opacity="0.5"/>
<circle cx="333.5" cy="362.8" r="2.15" fill="#b0e85a"/>
<circle cx="330" cy="374.9" r="3.2" fill="#cdf096" opacity="0.5"/>
<circle cx="330" cy="374.9" r="2.15" fill="#b0e85a"/>
<circle cx="349.2" cy="394.3" r="3.2" fill="#cdf096" opacity="0.5"/>
<circle cx="349.2" cy="394.3" r="2.15" fill="#b0e85a"/>
<circle cx="331.8" cy="413.1" r="3.2" fill="#cdf096" opacity="0.5"/>
<circle cx="331.8" cy="413.1" r="2.15" fill="#b0e85a"/>
<circle cx="334.6" cy="429.2" r="3.2" fill="#cdf096" opacity="0.5"/>
<circle cx="334.6" cy="429.2" r="2.15" fill="#b0e85a"/>
<circle cx="331.5" cy="285.7" r="2.9" fill="#ece880" opacity="0.45"/>
<circle cx="331.5" cy="285.7" r="2.05" fill="#dcd23a" stroke="#c0b038" stroke-width="0.3"/>
<circle cx="316.6" cy="365.1" r="2.9" fill="#ece880" opacity="0.45"/>
<circle cx="316.6" cy="365.1" r="2.05" fill="#dcd23a" stroke="#c0b038" stroke-width="0.3"/>
<circle cx="329.2" cy="436.2" r="2.9" fill="#ece880" opacity="0.45"/>
<circle cx="329.2" cy="436.2" r="2.05" fill="#dcd23a" stroke="#c0b038" stroke-width="0.3"/>
<circle cx="315.1" cy="440.3" r="2.9" fill="#ece880" opacity="0.45"/>
<circle cx="315.1" cy="440.3" r="2.05" fill="#dcd23a" stroke="#c0b038" stroke-width="0.3"/>
<circle cx="323.8" cy="287.7" r="1.95" fill="#6a7af0" stroke="#3c4aa6" stroke-width="0.5"/>
<circle cx="323.8" cy="326.2" r="1.95" fill="#6a7af0" stroke="#3c4aa6" stroke-width="0.5"/>
<circle cx="330.8" cy="331.1" r="1.95" fill="#6a7af0" stroke="#3c4aa6" stroke-width="0.5"/>
<circle cx="323.4" cy="275.7" r="1.95" fill="#9e48e0" stroke="#66288e" stroke-width="0.5"/>
<circle cx="316.6" cy="282.8" r="1.95" fill="#9e48e0" stroke="#66288e" stroke-width="0.5"/>
<circle cx="317.4" cy="294.9" r="1.95" fill="#9e48e0" stroke="#66288e" stroke-width="0.5"/>
<circle cx="314.2" cy="331.8" r="1.95" fill="#9e48e0" stroke="#66288e" stroke-width="0.5"/>
<circle cx="317.4" cy="376.5" r="1.95" fill="#9e48e0" stroke="#66288e" stroke-width="0.5"/>
<circle cx="312" cy="350.8" r="1.95" fill="#cc2a80" stroke="#861a56" stroke-width="0.5"/>
<circle cx="316.6" cy="355.7" r="1.95" fill="#cc2a80" stroke="#861a56" stroke-width="0.5"/>
<circle cx="346.5" cy="323.8" r="1.95" fill="#d27a2e" stroke="#945420" stroke-width="0.5"/>
<circle cx="371.5" cy="333.1" r="1.95" fill="#d27a2e" stroke="#945420" stroke-width="0.5"/>
<circle cx="366.5" cy="353.5" r="1.95" fill="#d27a2e" stroke="#945420" stroke-width="0.5"/>
<circle cx="353.8" cy="433.1" r="1.95" fill="#d27a2e" stroke="#945420" stroke-width="0.5"/>
<circle cx="465.1" cy="275.7" r="1.95" fill="#d02228" stroke="#961a1e" stroke-width="0.5"/>
<circle cx="490" cy="278" r="1.95" fill="#d02228" stroke="#961a1e" stroke-width="0.5"/>
<circle cx="459.5" cy="287.7" r="1.95" fill="#d02228" stroke="#961a1e" stroke-width="0.5"/>
<circle cx="494.6" cy="288.9" r="1.95" fill="#d02228" stroke="#961a1e" stroke-width="0.5"/>
<text x="331.0" y="272.6" class="lb">RA</text>
<text x="311.0" y="279.4" class="lb">JA</text>
<text x="338.1" y="282.0" class="lb">CM</text>
<text x="330.2" y="296.1" class="lb">CO</text>
<text x="311.4" y="303.8" class="lb">NCC</text>
<text x="317.9" y="322.8" class="lb">DD</text>
<text x="340.3" y="332.3" class="lb">RM</text>
<text x="336.6" y="339.7" class="lb">GW</text>
<text x="311.4" y="340.1" class="lb">WSJ</text>
<text x="377.9" y="329.3" class="lb">OB</text>
<text x="360.6" y="362.1" class="lb">HB</text>
<text x="309.5" y="347.7" class="lb">MG</text>
<text x="324.1" y="349.4" class="lb">RTL</text>
<text x="346.4" y="347.2" class="lb">RL</text>
<text x="340.4" y="360.0" class="lb">RBL</text>
<text x="324.1" y="362.9" class="lb">FS</text>
<text x="312.6" y="373.8" class="lb">GHLT</text>
<text x="337.3" y="371.8" class="lb">ML</text>
<text x="323.3" y="384.8" class="lb">EJ</text>
<text x="308.2" y="387.4" class="lb">ZF</text>
<text x="325.6" y="403.3" class="lb">OWA</text>
<text x="343.3" y="403.3" class="lb">AA</text>
<text x="325.9" y="421.8" class="lb">BL</text>
<text x="341.1" y="426.1" class="lb">CS</text>
<text x="360.4" y="429.5" class="lb">GSM</text>
<text x="332.4" y="435.1" class="lb">SM</text>
<text x="307.6" y="436.1" class="lb">PI</text>
<text x="325.4" y="443.8" class="lb">MA</text>
<text x="318.2" y="450.8" class="lb">SS</text>
<text x="311.9" y="461.9" class="lb">SWS</text>
<text x="472.7" y="273.1" class="lb">CH</text>
<text x="484.0" y="286.3" class="lb">OR</text>
<text x="453.6" y="295.8" class="lb">BB</text>
<text x="498.0" y="297.9" class="lb">GO</text>
<circle cx="11.25" cy="520.5" r="6.5" fill="#e0262a" stroke="#a01b1e" stroke-width="0.9"/>
<text x="24.55" y="523.7" class="lg" text-anchor="start" >Great ape</text>
<text x="17.5" y="543.4" class="lgb" text-anchor="start" >BB</text>
<text x="40.8" y="543.4" class="lg" text-anchor="start" >Bonobo</text>
<text x="17.5" y="554.15" class="lgb" text-anchor="start" >CH</text>
<text x="40.8" y="554.15" class="lg" text-anchor="start" >Chimpanzee</text>
<text x="17.5" y="564.9" class="lgb" text-anchor="start" >GO</text>
<text x="40.8" y="564.9" class="lg" text-anchor="start" >Gorilla</text>
<text x="17.5" y="575.65" class="lgb" text-anchor="start" >OR</text>
<text x="40.8" y="575.65" class="lg" text-anchor="start" >Orangutan</text>
<circle cx="111" cy="520.6" r="6.5" fill="#e8862a" stroke="#a46020" stroke-width="0.9"/>
<text x="124.3" y="523.8000000000001" class="lg" text-anchor="start" >Old world monkey</text>
<text x="113.8" y="543.4" class="lgb" text-anchor="start" >GSM</text>
<text x="137.5" y="543.4" class="lg" text-anchor="start" >Golden snub-nosed monkey</text>
<text x="113.8" y="554.2" class="lgb" text-anchor="start" >HB</text>
<text x="137.5" y="554.2" class="lg" text-anchor="start" >Hamadryas baboon</text>
<text x="113.8" y="565.0" class="lgb" text-anchor="start" >OB</text>
<text x="137.5" y="565.0" class="lg" text-anchor="start" >Olive baboon</text>
<text x="113.8" y="575.8" class="lgb" text-anchor="start" >RM</text>
<text x="137.5" y="575.8" class="lg" text-anchor="start" >Rhesus macaque</text>
<circle cx="262.9" cy="520.8" r="6.5" fill="#f0e034" stroke="#a09040" stroke-width="0.9"/>
<text x="276.2" y="524.0" class="lg" text-anchor="start" >New world monkey</text>
<text x="266" y="543.4" class="lgb" text-anchor="start" >CM</text>
<text x="293" y="543.4" class="lg" text-anchor="start" >Capuchin monkey</text>
<text x="266" y="554.2" class="lgb" text-anchor="start" >GHLT</text>
<text x="293" y="554.2" class="lg" text-anchor="start" >Golden-headed lion tamarin</text>
<text x="266" y="565.0" class="lgb" text-anchor="start" >MA</text>
<text x="293" y="565.0" class="lg" text-anchor="start" >Marmoset</text>
<text x="266" y="575.8" class="lgb" text-anchor="start" >SM</text>
<text x="293" y="575.8" class="lg" text-anchor="start" >Squirrel monkey</text>
<circle cx="413.2" cy="520.8" r="6.5" fill="#aaee44" stroke="#5e8e32" stroke-width="0.9"/>
<text x="426.5" y="524.0" class="lg" text-anchor="start" >Lemur</text>
<text x="417.3" y="543.6" class="lgb" text-anchor="start" >AA</text>
<text x="444.3" y="543.6" class="lg" text-anchor="start" >Aye aye</text>
<text x="417.3" y="554.26" class="lgb" text-anchor="start" >BL</text>
<text x="444.3" y="554.26" class="lg" text-anchor="start" >Brown lemur</text>
<text x="417.3" y="564.92" class="lgb" text-anchor="start" >BLL</text>
<text x="444.3" y="564.92" class="lg" text-anchor="start" >Black lemur</text>
<text x="417.3" y="575.58" class="lgb" text-anchor="start" >CS</text>
<text x="444.3" y="575.58" class="lg" text-anchor="start" >Coquerel’s sifaka</text>
<text x="417.3" y="586.24" class="lgb" text-anchor="start" >ML</text>
<text x="444.3" y="586.24" class="lg" text-anchor="start" >Mongoose lemur</text>
<text x="417.3" y="596.9" class="lgb" text-anchor="start" >RBL</text>
<text x="444.3" y="596.9" class="lg" text-anchor="start" >Red-bellied lemur</text>
<text x="417.3" y="607.56" class="lgb" text-anchor="start" >RTL</text>
<text x="444.3" y="607.56" class="lg" text-anchor="start" >Ring-tailed lemur</text>
<text x="417.3" y="618.22" class="lgb" text-anchor="start" >RL</text>
<text x="444.3" y="618.22" class="lg" text-anchor="start" >Ruffed lemur</text>
<circle cx="11.25" cy="593" r="6.5" fill="#6a78f0" stroke="#3c4aa2" stroke-width="0.9"/>
<text x="24.55" y="596.2" class="lg" text-anchor="start" >Carnviore</text>
<text x="17" y="613.9" class="lgb" text-anchor="start" >CO</text>
<text x="38" y="613.9" class="lg" text-anchor="start" >Coyote</text>
<text x="17" y="624.6" class="lgb" text-anchor="start" >DD</text>
<text x="38" y="624.6" class="lg" text-anchor="start" >Domestic dog</text>
<text x="17" y="635.3" class="lgb" text-anchor="start" >GW</text>
<text x="38" y="635.3" class="lg" text-anchor="start" >Gray wolf</text>
<circle cx="109.2" cy="592.9" r="6.5" fill="#3e8868" stroke="#2a5a48" stroke-width="0.9"/>
<text x="122.5" y="596.1" class="lg" text-anchor="start" >Bird</text>
<text x="114.8" y="613.6" class="lgb" text-anchor="start" >OWA</text>
<text x="140" y="613.6" class="lg" text-anchor="start" >Orange-winged amazon</text>
<text x="114.8" y="624.2" class="lgb" text-anchor="start" >PI</text>
<text x="140" y="624.2" class="lg" text-anchor="start" >Pigeon</text>
<text x="114.8" y="634.8" class="lgb" text-anchor="start" >SS</text>
<text x="140" y="634.8" class="lg" text-anchor="start" >Song sparrow</text>
<text x="114.8" y="645.4" class="lgb" text-anchor="start" >SWS</text>
<text x="140" y="645.4" class="lg" text-anchor="start" >Swamp sparrow</text>
<text x="114.8" y="656.0" class="lgb" text-anchor="start" >ZF</text>
<text x="140" y="656.0" class="lg" text-anchor="start" >Zebra finch</text>
<circle cx="262.9" cy="593.4" r="6.5" fill="#ae4cee" stroke="#6a2a90" stroke-width="0.9"/>
<text x="276.2" y="596.6" class="lg" text-anchor="start" >Corvid</text>
<text x="266" y="613.6" class="lgb" text-anchor="start" >EJ</text>
<text x="293" y="613.6" class="lg" text-anchor="start" >Eurasian jay</text>
<text x="266" y="624.25" class="lgb" text-anchor="start" >JA</text>
<text x="293" y="624.25" class="lg" text-anchor="start" >Jackdaw</text>
<text x="266" y="634.9" class="lgb" text-anchor="start" >NCC</text>
<text x="293" y="634.9" class="lg" text-anchor="start" >New Caledonian crow</text>
<text x="266" y="645.55" class="lgb" text-anchor="start" >RA</text>
<text x="293" y="645.55" class="lg" text-anchor="start" >Raven</text>
<text x="266" y="656.2" class="lgb" text-anchor="start" >WSJ</text>
<text x="293" y="656.2" class="lg" text-anchor="start" >Western scrub jay</text>
<circle cx="409.1" cy="629.3" r="6.5" fill="#de30a0" stroke="#902070" stroke-width="0.9"/>
<text x="422.40000000000003" y="632.5" class="lg" text-anchor="start" >Rodent</text>
<text x="417.3" y="646.6" class="lgb" text-anchor="start" >FS</text>
<text x="444.3" y="646.6" class="lg" text-anchor="start" >Fox squirrel</text>
<text x="417.3" y="656.3" class="lgb" text-anchor="start" >MG</text>
<text x="444.3" y="656.3" class="lg" text-anchor="start" >Mongolian gerbil</text>
</svg>
</body></html>
